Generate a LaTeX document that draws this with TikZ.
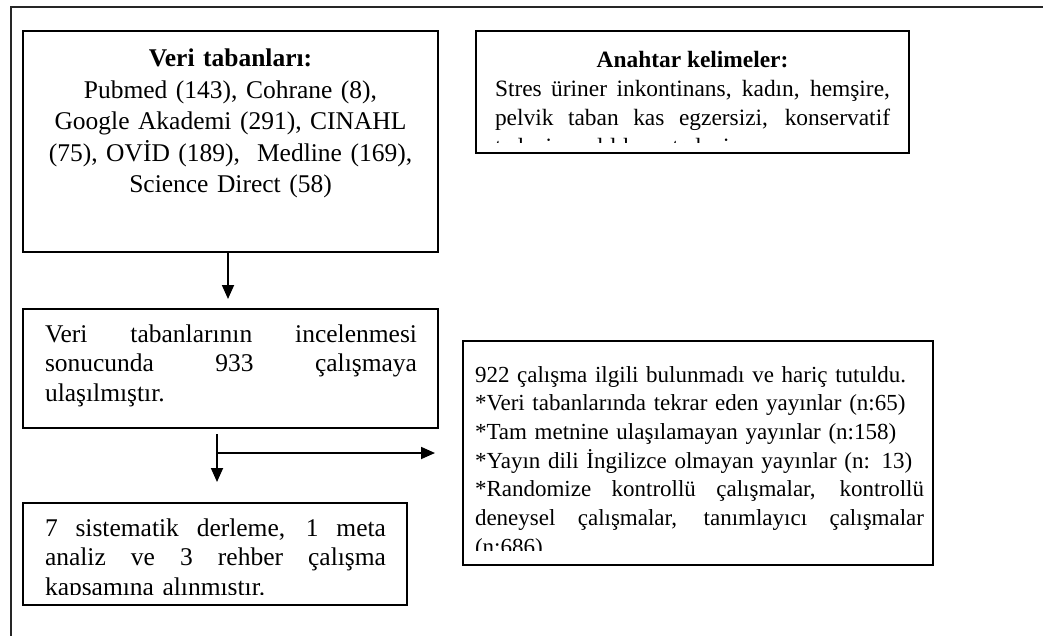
\documentclass[tikz,border=0pt]{standalone}
\usepackage{fontspec}
\setmainfont{Liberation Serif}
\usetikzlibrary{arrows.meta}
\newcommand\fbig{\fontsize{25.5pt}{29.5pt}\selectfont}
\newcommand\fvt{\fontsize{25.5pt}{31.5pt}\selectfont}
\newcommand\fsmall{\fontsize{23.4pt}{28.7pt}\selectfont}
\newcommand\fright{\fontsize{23pt}{28.7pt}\selectfont}
\newcommand\jl[2]{\makebox[#1][s]{\spaceskip=0pt\xspaceskip=0pt #2}}
\begin{document}
\begin{tikzpicture}[x=1pt,y=-1pt,
  box/.style={draw, line width=1.6pt, anchor=north west, inner sep=0pt, outer sep=0pt},
  txt/.style={inner sep=0pt, outer sep=0pt, anchor=base west, align=left},
  arr/.style={line width=1.8pt, -{Triangle[length=14pt,width=12pt]}},
  frame/.style={line width=2pt, color=black!85}]
\useasboundingbox (0,0) rectangle (1043,636);
% outer frame (top and left only)
\draw[frame] (11,636) -- (11,7) -- (1043,7);
% boxes
\node[box, minimum width=415pt, minimum height=221pt] (b1) at (23,31) {};
\node[box, minimum width=433pt, minimum height=122pt] (b2) at (476,31) {};
\node[box, minimum width=415pt, minimum height=119pt] (b3) at (23,309) {};
\node[box, minimum width=470pt, minimum height=224pt] (b4) at (463,341) {};
\node[box, minimum width=384pt, minimum height=102pt] (b5) at (23,503) {};
% texts
\node[txt, anchor=base, text width=400pt, align=center, font=\fvt] (t1) at (230.5,67)
  {\textbf{Veri tabanları:}\\ Pubmed (143), Cohrane (8),\\ Google Akademi (291), CINAHL\\ (75), OVİD (189),\ \ Medline (169),\\ Science Direct (58)};
\begin{scope}
\clip (476,31) rectangle (909,142.5);
\node[txt, text width=395pt, font=\fsmall] (t2) at (495,68)
  {\jl{395pt}{\hfil\textbf{Anahtar kelimeler:}\hfil}\\
   \jl{395pt}{Stres üriner inkontinans, kadın, hemşire,}\\
   \jl{395pt}{pelvik taban kas egzersizi, konservatif}\\
   tedavi, yaşlılık ve tedavi};
\end{scope}
\node[txt, text width=372pt, font=\fbig] (t3) at (45,342)
  {\jl{372pt}{Veri tabanlarının incelenmesi}\\
   \jl{372pt}{sonucunda 933 çalışmaya}\\
   ulaşılmıştır.};
\begin{scope}
\clip (463,341) rectangle (933,550);
\node[txt, text width=449pt, font=\fright] (t4) at (475,382)
  {922 çalışma ilgili bulunmadı ve hariç tutuldu.\\
   {*}Veri tabanlarında tekrar eden yayınlar (n:65)\\
   {*}Tam metnine ulaşılamayan yayınlar (n:158)\\
   {*}Yayın dili İngilizce olmayan yayınlar (n: 13)\\
   \jl{449pt}{*Randomize kontrollü çalışmalar, kontrollü}\\
   \jl{449pt}{deneysel çalışmalar, tanımlayıcı çalışmalar}\\
   (n:686)};
\end{scope}
\begin{scope}
\clip (23,503) rectangle (407,594);
\node[txt, text width=341pt, font=\fbig] (t5) at (45,536)
  {\jl{341pt}{7 sistematik derleme, 1 meta}\\
   \jl{341pt}{analiz ve 3 rehber çalışma}\\
   kapsamına alınmıştır.};
\end{scope}
% connectors
\coordinate (j) at (217,453);
\draw[arr] ([xshift=-2.5pt]b1.south) -- ([xshift=-2.5pt,yshift=10pt]b3.north);
\draw[arr] ([yshift=-6pt]b3.south -| j) -- ([yshift=21pt]b5.north -| j);
\draw[arr] (j) -- ([xshift=-28pt]b4.west |- j);
\end{tikzpicture}
\end{document}
